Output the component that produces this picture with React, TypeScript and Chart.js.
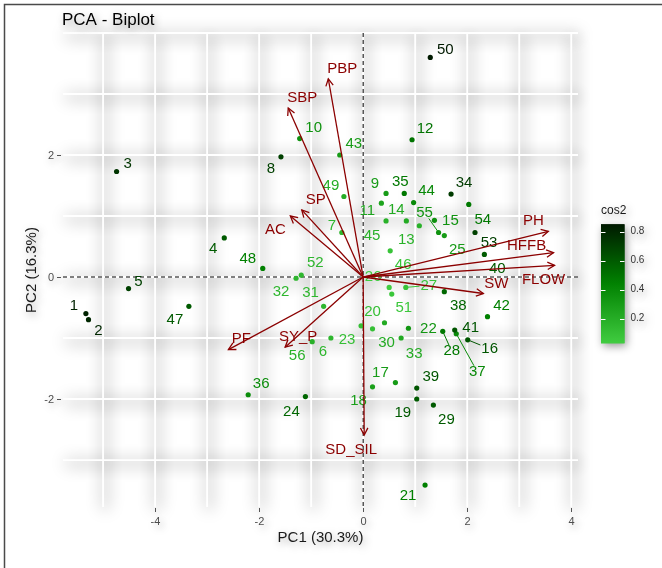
import React, { useEffect, useRef } from "react";
import { Chart, registerables } from "chart.js";

Chart.register(...registerables);

// ---------------- data ----------------
const obsNames = [
  "1","2","3","4","5","6","7","8","9","10","11","12","13","14","15","16","17","18","19","20",
  "21","22","23","24","25","26","27","28","29","30","31","32","33","34","35","36","37","38","39","40",
  "41","42","43","44","45","46","47","48","49","50","51","52","53","54","55","56",
];
const obsPC1 = [
  -5.33, -5.28, -4.74, -2.67, -4.51, -0.62, -0.41, -1.58, 0.44, -1.22,
  0.35, 0.94, 1.08, 0.83, 1.37, 2.01, 0.62, 0.18, 1.03, 0.18,
  1.19, 0.87, -0.04, -1.11, 1.56, 0.5, 0.82, 1.53, 1.35, 0.41,
  -0.76, -1.29, 0.73, 1.69, 0.79, -2.21, 1.79, 1.56, 1.03, 2.33,
  1.76, 2.39, -0.45, 0.97, 0.44, 0.52, -3.35, -1.93, -0.37, 1.29,
  0.55, -1.19, 2.15, 2.03, 1.45, -0.98,
];
const obsPC2 = [
  -0.6, -0.7, 1.73, 0.64, -0.19, -1.0, 0.73, 1.97, 1.37, 2.27,
  1.21, 2.25, 0.84, 0.92, 0.93, -1.03, -1.73, -1.8, -2.0, -0.85,
  -3.41, -0.84, -0.8, -1.96, 0.68, -0.17, -0.17, -0.89, -2.1, -0.75,
  -0.48, -0.02, -1.0, 1.36, 1.37, -1.93, -0.93, -0.24, -1.82, 0.37,
  -0.87, -0.65, 2.0, 1.22, 0.92, 0.43, -0.48, 0.14, 1.32, 3.6,
  -0.28, 0.03, 0.73, 1.19, 0.73, -1.06,
];
const obsCos2 = [
  0.82, 0.8, 0.75, 0.6, 0.7, 0.15, 0.15, 0.7, 0.3, 0.35,
  0.25, 0.5, 0.18, 0.22, 0.35, 0.62, 0.3, 0.28, 0.6, 0.1,
  0.45, 0.33, 0.1, 0.55, 0.3, 0.03, 0.08, 0.48, 0.6, 0.22,
  0.15, 0.15, 0.22, 0.72, 0.48, 0.38, 0.4, 0.55, 0.62, 0.6,
  0.62, 0.45, 0.3, 0.4, 0.18, 0.08, 0.6, 0.45, 0.2, 0.85,
  0.06, 0.15, 0.7, 0.48, 0.35, 0.18,
];

const varNames = ["PBP", "SBP", "SP", "AC", "PF", "SY_P", "SD_SIL", "PH", "HFFB", "FLOW", "SW"];
const varPC1 = [-0.67, -1.44, -1.18, -1.4, -2.59, -1.5, 0.02, 3.56, 3.66, 3.68, 2.31];
const varPC2 = [3.25, 2.77, 1.1, 1.0, -1.19, -1.15, -2.59, 0.75, 0.4, 0.19, -0.27];

const xTicks = [-4, -2, 0, 2, 4];
const yTicks = [-2, 0, 2];
const legendTicks = [0.2, 0.4, 0.6, 0.8];
const cos2Range = [0.03, 0.85];

// -------------- label layout (repel-like nudges, px) --------------
const obsLabelNudge: [number, number][] = [
  [-12, -8], [10, 11], [11, -8], [-11, 11], [10, -7], [-8, 14], [-10, -7], [-10, 12], [-11, -10], [14, -11],
  [-14, 8], [13, -11], [-13, 14], [-10, -11], [16, 1], [22, 9], [-15, -10], [-14, 14], [-14, 14], [0, -17],
  [-17, 11], [20, 1], [-14, 14], [-14, 15], [13, 14], [-16, -11], [23, -2], [9, 20], [13, 15], [2, 20],
  [-13, -13], [-15, 14], [13, 16], [13, -11], [-4, -12], [13, -11], [21, 38], [14, 14], [14, -11], [13, 14],
  [16, -2], [14, -11], [14, -11], [13, -12], [-14, 15], [13, 14], [-14, 14], [-15, -10], [-13, -11], [15, -8],
  [12, 14], [14, -12], [14, 10], [14, 15], [-14, -20], [-15, 14],
];
const segmentLabels = ["16", "27", "28", "37", "55"];
const varLabelNudge: [number, number][] = [
  [14, -10], [14, -10], [14, -10], [-15, 14], [13, -11], [13, -10], [-13, 15], [-15, -10], [-27, -7], [-11, 14], [13, -10],
];

const FONT = "'Liberation Sans', Arial, Helvetica, sans-serif";
const VAR_COLOR = "#8B0000";

const stops: [number, [number, number, number]][] = [
  [0.03, [64, 204, 64]],
  [0.45, [0, 128, 0]],
  [0.85, [0, 26, 0]],
];
function cosColor(v: number): string {
  if (v <= stops[0][0]) return `rgb(${stops[0][1].join(",")})`;
  for (let i = 0; i < stops.length - 1; i++) {
    const [a, ca] = stops[i];
    const [b, cb] = stops[i + 1];
    if (v <= b) {
      const t = (v - a) / (b - a);
      const c = ca.map((q, k) => Math.round(q + (cb[k] - q) * t));
      return `rgb(${c.join(",")})`;
    }
  }
  return `rgb(${stops[stops.length - 1][1].join(",")})`;
}

function textShadow(ctx: CanvasRenderingContext2D) {
  ctx.shadowColor = "rgba(0,0,0,0.4)";
  ctx.shadowBlur = 9;
  ctx.shadowOffsetX = 2;
  ctx.shadowOffsetY = 3;
}
function noShadow(ctx: CanvasRenderingContext2D) {
  ctx.shadowColor = "rgba(0,0,0,0)";
  ctx.shadowBlur = 0;
  ctx.shadowOffsetX = 0;
  ctx.shadowOffsetY = 0;
}

const biplotPlugin = {
  id: "biplotDecor",
  beforeDatasetsDraw(chart: any) {
    const { ctx, chartArea } = chart;
    const { left, right, top, bottom } = chartArea;
    const xs = chart.scales.x;
    const ys = chart.scales.y;
    const gx: number[] = [];
    for (let v = Math.ceil(xs.min); v <= Math.floor(xs.max); v++) gx.push(v);
    const gy: number[] = [];
    for (let v = Math.ceil(ys.min); v <= Math.floor(ys.max); v++) gy.push(v);
    ctx.save();
    // blurred shadow bands
    const OFF = 3000;
    ctx.shadowColor = "rgba(0,0,0,0.22)";
    ctx.shadowBlur = 16;
    ctx.shadowOffsetX = OFF + 2;
    ctx.shadowOffsetY = 3;
    ctx.strokeStyle = "#000";
    ctx.lineWidth = 7;
    for (const v of gx) {
      const p = xs.getPixelForValue(v);
      ctx.beginPath();
      ctx.moveTo(p - OFF, top);
      ctx.lineTo(p - OFF, bottom);
      ctx.stroke();
    }
    for (const v of gy) {
      const p = ys.getPixelForValue(v);
      ctx.beginPath();
      ctx.moveTo(left - OFF, p);
      ctx.lineTo(right - OFF, p);
      ctx.stroke();
    }
    noShadow(ctx);
    ctx.strokeStyle = "#ffffff";
    ctx.lineWidth = 1.8;
    for (const v of gx) {
      const p = xs.getPixelForValue(v);
      ctx.beginPath();
      ctx.moveTo(p, top);
      ctx.lineTo(p, bottom);
      ctx.stroke();
    }
    for (const v of gy) {
      const p = ys.getPixelForValue(v);
      ctx.beginPath();
      ctx.moveTo(left, p);
      ctx.lineTo(right, p);
      ctx.stroke();
    }
    // dashed zero lines
    ctx.strokeStyle = "#000";
    ctx.lineWidth = 1;
    ctx.setLineDash([4, 3]);
    const x0 = xs.getPixelForValue(0);
    const y0 = ys.getPixelForValue(0);
    ctx.beginPath();
    ctx.moveTo(x0, top);
    ctx.lineTo(x0, bottom);
    ctx.moveTo(left, y0);
    ctx.lineTo(right, y0);
    ctx.stroke();
    ctx.setLineDash([]);
    ctx.restore();
  },
  afterDatasetDraw(chart: any, args: any) {
    if (args.index !== 0) return;
    const { ctx } = chart;
    const xs = chart.scales.x;
    const ys = chart.scales.y;
    ctx.save();
    ctx.font = `15px ${FONT}`;
    ctx.textAlign = "center";
    ctx.textBaseline = "middle";
    obsNames.forEach((name, i) => {
      const px = xs.getPixelForValue(obsPC1[i]);
      const py = ys.getPixelForValue(obsPC2[i]);
      const [dx, dy] = obsLabelNudge[i];
      const cx = px + dx;
      const cy = py + dy;
      const col = cosColor(obsCos2[i]);
      if (segmentLabels.includes(name)) {
        const w = ctx.measureText(name).width / 2 + 1;
        const h = 6;
        const s = Math.min(dx !== 0 ? w / Math.abs(dx) : Infinity, dy !== 0 ? h / Math.abs(dy) : Infinity);
        ctx.strokeStyle = col;
        ctx.lineWidth = 1;
        ctx.beginPath();
        ctx.moveTo(px, py);
        ctx.lineTo(cx - dx * s, cy - dy * s);
        ctx.stroke();
      }
      ctx.fillStyle = col;
      ctx.fillText(name, cx, cy);
    });
    ctx.restore();
  },
  afterDatasetsDraw(chart: any) {
    const { ctx, chartArea } = chart;
    const { left, right, top, bottom } = chartArea;
    const xs = chart.scales.x;
    const ys = chart.scales.y;
    ctx.save();
    // arrow heads + variable labels
    const ox = xs.getPixelForValue(0);
    const oy = ys.getPixelForValue(0);
    ctx.strokeStyle = VAR_COLOR;
    ctx.fillStyle = VAR_COLOR;
    ctx.lineWidth = 1.3;
    ctx.font = `15px ${FONT}`;
    ctx.textAlign = "center";
    ctx.textBaseline = "middle";
    varNames.forEach((name, i) => {
      const tx = xs.getPixelForValue(varPC1[i]);
      const ty = ys.getPixelForValue(varPC2[i]);
      const a = Math.atan2(ty - oy, tx - ox);
      const L = 8;
      const th = Math.PI / 6.5;
      ctx.beginPath();
      ctx.moveTo(tx - L * Math.cos(a - th), ty - L * Math.sin(a - th));
      ctx.lineTo(tx, ty);
      ctx.lineTo(tx - L * Math.cos(a + th), ty - L * Math.sin(a + th));
      ctx.stroke();
      const [dx, dy] = varLabelNudge[i];
      ctx.fillText(name, tx + dx, ty + dy);
    });

    // axes ticks and labels
    textShadow(ctx);
    ctx.fillStyle = "#4d4d4d";
    ctx.strokeStyle = "#555";
    ctx.lineWidth = 1;
    ctx.font = `11px ${FONT}`;
    ctx.textAlign = "center";
    ctx.textBaseline = "middle";
    for (const v of xTicks) {
      const p = Math.round(xs.getPixelForValue(v)) + 0.5;
      ctx.beginPath();
      ctx.moveTo(p, bottom + 1);
      ctx.lineTo(p, bottom + 5);
      ctx.stroke();
      ctx.fillText(String(v), p, bottom + 15);
    }
    ctx.textAlign = "right";
    for (const v of yTicks) {
      const p = Math.round(ys.getPixelForValue(v)) + 0.5;
      ctx.beginPath();
      ctx.moveTo(left - 6, p);
      ctx.lineTo(left - 2, p);
      ctx.stroke();
      ctx.fillText(String(v), left - 9, p);
    }
    // axis titles
    ctx.fillStyle = "#1a1a1a";
    ctx.font = `15px ${FONT}`;
    ctx.textAlign = "center";
    ctx.fillText("PC1 (30.3%)", (left + right) / 2, bottom + 31);
    ctx.save();
    ctx.translate(32, (top + bottom) / 2);
    ctx.rotate(-Math.PI / 2);
    ctx.fillText("PC2 (16.3%)", 0, 0);
    ctx.restore();
    // title
    ctx.fillStyle = "#000";
    ctx.font = `17px ${FONT}`;
    ctx.textAlign = "left";
    ctx.fillText("PCA - Biplot", 62, 20);

    // legend colorbar
    const bx = 601, bw = 23.5, bTop = 224.3, bBot = 343.3;
    ctx.fillStyle = "#1a1a1a";
    ctx.font = `12px ${FONT}`;
    ctx.fillText("cos2", bx, 211);
    const grad = ctx.createLinearGradient(0, bBot, 0, bTop);
    const steps = 12;
    for (let k = 0; k <= steps; k++) {
      const t = k / steps;
      grad.addColorStop(t, cosColor(cos2Range[0] + t * (cos2Range[1] - cos2Range[0])));
    }
    ctx.fillStyle = grad;
    ctx.fillRect(bx, bTop, bw, bBot - bTop);
    noShadow(ctx);
    ctx.fillRect(bx, bTop, bw, bBot - bTop);
    const vy = (v: number) => bBot - ((v - cos2Range[0]) / (cos2Range[1] - cos2Range[0])) * (bBot - bTop);
    ctx.strokeStyle = "#ffffff";
    ctx.lineWidth = 1;
    for (const v of legendTicks) {
      const p = Math.round(vy(v)) + 0.5;
      ctx.beginPath();
      ctx.moveTo(bx, p);
      ctx.lineTo(bx + 4.5, p);
      ctx.moveTo(bx + bw - 4.5, p);
      ctx.lineTo(bx + bw, p);
      ctx.stroke();
    }
    textShadow(ctx);
    ctx.fillStyle = "#333";
    ctx.font = `10px ${FONT}`;
    ctx.textAlign = "left";
    for (const v of legendTicks) {
      ctx.fillText(v.toFixed(1), bx + bw + 6, vy(v));
    }
    noShadow(ctx);

    // frame
    ctx.strokeStyle = "#4a4a4a";
    ctx.lineWidth = 1.5;
    ctx.beginPath();
    ctx.moveTo(4.5, 568);
    ctx.lineTo(4.5, 4.5);
    ctx.lineTo(662, 4.5);
    ctx.stroke();
    ctx.restore();
  },
};

export default function App() {
  const canvasRef = useRef<HTMLCanvasElement | null>(null);

  useEffect(() => {
    const canvas = canvasRef.current;
    if (!canvas) return;
    const pointData = obsNames.map((_, i) => ({ x: obsPC1[i], y: obsPC2[i] }));
    const colors = obsCos2.map((c) => cosColor(c));
    const varDatasets = varNames.map((name, i) => ({
      type: "scatter" as const,
      label: name,
      data: [
        { x: 0, y: 0 },
        { x: varPC1[i], y: varPC2[i] },
      ],
      showLine: true,
      borderColor: VAR_COLOR,
      borderWidth: 1.3,
      pointRadius: 0,
      fill: false,
      order: 0,
    }));
    const chart = new Chart(canvas, {
      type: "scatter",
      data: {
        datasets: [
          {
            label: "individuals",
            data: pointData,
            pointBackgroundColor: colors,
            pointBorderColor: colors,
            pointBorderWidth: 0,
            pointRadius: 2.6,
            order: 1,
          } as any,
          ...varDatasets,
        ],
      },
      options: {
        responsive: false,
        animation: false,
        devicePixelRatio: 1,
        events: [],
        layout: { padding: { left: 63, right: 84, top: 33, bottom: 61 } },
        scales: {
          x: { type: "linear", min: -5.77, max: 4.13, display: false },
          y: { type: "linear", min: -3.77, max: 4.0, display: false },
        },
        plugins: { legend: { display: false }, tooltip: { enabled: false }, title: { display: false } },
      },
      plugins: [biplotPlugin],
    });
    return () => chart.destroy();
  }, []);

  return (
    <div style={{ position: "absolute", left: 0, top: 0, width: 662, height: 568, background: "#fff" }}>
      <canvas ref={canvasRef} width={662} height={568} style={{ display: "block" }} />
    </div>
  );
}
